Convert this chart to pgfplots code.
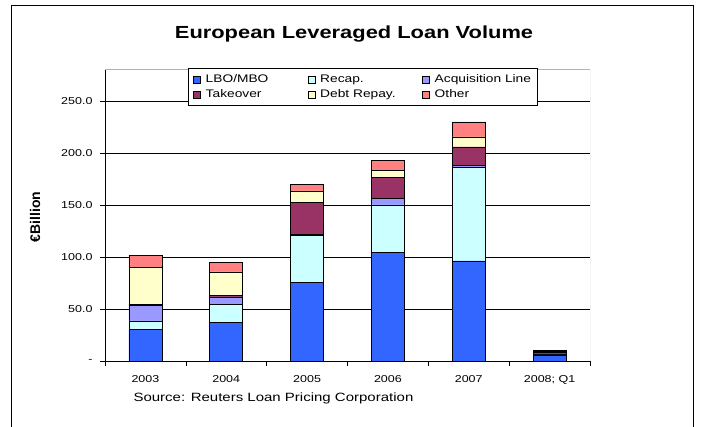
\documentclass[border=0pt]{standalone}
\usepackage{pgfplots}
\pgfplotsset{compat=1.18}
\usepackage{pgfplotstable}
\usepackage{graphicx}
\usepackage{fontspec}
\setmainfont{Liberation Sans}
\definecolor{clbo}{HTML}{3366FF}
\definecolor{crecap}{HTML}{CCFFFF}
\definecolor{cacq}{HTML}{9999FF}
\definecolor{ctake}{HTML}{993366}
\definecolor{cdebt}{HTML}{FFFFCC}
\definecolor{cother}{HTML}{FF8080}
\pgfplotstableread{
x lbo recap acq take debt other
0 30.5 8.1 15.1 0.9 35.7 11.6
1 37.0 17.6 7.1 1.3 22.8 8.7
2 75.8 44.7 1.6 30.2 11.3 6.7
3 104.8 45.3 6.1 20.5 6.5 9.6
4 96.4 89.7 2.2 17.7 9.6 14.5
5 5.8 0.3 0.3 1.5 1.2 0.9
}\loandata
\newcommand{\sx}[1]{\scalebox{1.25}[1]{#1}}
\newcommand{\legtxt}[1]{\hspace*{3.5pt}\sx{#1}}
\begin{document}
\begin{tikzpicture}
\useasboundingbox (0pt,0pt) rectangle (714pt,427pt);
\draw[line width=1pt] (11pt,0pt) -- (11pt,421pt) -- (693pt,421pt) -- (693pt,0pt);
\begin{axis}[
  at={(105pt,66pt)}, anchor=south west,
  scale only axis, width=485pt, height=291pt,
  ybar stacked, bar width=33pt,
  xmin=-0.5, xmax=5.5, ymin=0, ymax=280,
  axis x line*=bottom, axis y line*=left,
  axis line style={black, line width=0.6pt},
  xtick={-0.5,0.5,1.5,2.5,3.5,4.5,5.5}, x tick label as interval,
  xticklabels={\sx{2003},\sx{2004},\sx{2005},\sx{2006},\sx{2007},\sx{2008; Q1}},
  ytick={0,50,100,150,200,250},
  yticklabels={\sx{-},\sx{50.0},\sx{100.0},\sx{150.0},\sx{200.0},\sx{250.0}},
  ymajorgrids, grid style={black, line width=0.5pt},
  tick align=outside, major tick length=5pt,
  tick style={black, line width=0.6pt},
  tick label style={font=\fontsize{10}{12}\selectfont},
  yticklabel style={xshift=-4pt},
  xticklabel style={yshift=-6pt},
  /pgf/number format/assume math mode=true,
  ylabel={\textbf{€Billion}},
  ylabel style={at={(axis description cs:-0.144,0.495)}, anchor=center, font=\fontsize{14}{16}\selectfont},
  legend columns=3,
  legend cell align=left,
  legend style={at={(0.171,1.007)}, anchor=north west, draw=black, line width=0.6pt, fill=white, inner sep=5pt,
    nodes={inner sep=1.5pt, font=\fontsize{11}{13}\selectfont}, row sep=2.5pt, column sep=0pt},
  legend image code/.code={\draw[#1,draw=black,line width=0.5pt] (0pt,-3.5pt) rectangle (7pt,3.5pt);},
]
\addplot[fill=clbo, draw=black, line width=0.6pt] table[x=x,y=lbo]{\loandata};
\addlegendentry{\makebox[104pt][l]{\legtxt{LBO/MBO}}}
\addplot[fill=crecap, draw=black, line width=0.6pt] table[x=x,y=recap]{\loandata};
\addlegendentry{\makebox[104pt][l]{\legtxt{Recap.}}}
\addplot[fill=cacq, draw=black, line width=0.6pt] table[x=x,y=acq]{\loandata};
\addlegendentry{\legtxt{Acquisition Line}}
\addplot[fill=ctake, draw=black, line width=0.6pt] table[x=x,y=take]{\loandata};
\addlegendentry{\makebox[104pt][l]{\legtxt{Takeover}}}
\addplot[fill=cdebt, draw=black, line width=0.6pt] table[x=x,y=debt]{\loandata};
\addlegendentry{\makebox[104pt][l]{\legtxt{Debt Repay.}}}
\addplot[fill=cother, draw=black, line width=0.6pt] table[x=x,y=other]{\loandata};
\addlegendentry{\legtxt{Other}}
\draw[gray!60, line width=1pt] (rel axis cs:0,1) -- (rel axis cs:1,1) -- (rel axis cs:1,0);
\end{axis}
\node[font=\bfseries\fontsize{17.5}{20}\selectfont] at (354pt,393pt) {\sx{European Leveraged Loan Volume}};
\node[anchor=west, font=\fontsize{12}{14}\selectfont] at (130pt,29pt) {\sx{Source: Reuters Loan Pricing Corporation}};
\end{tikzpicture}
\end{document}
